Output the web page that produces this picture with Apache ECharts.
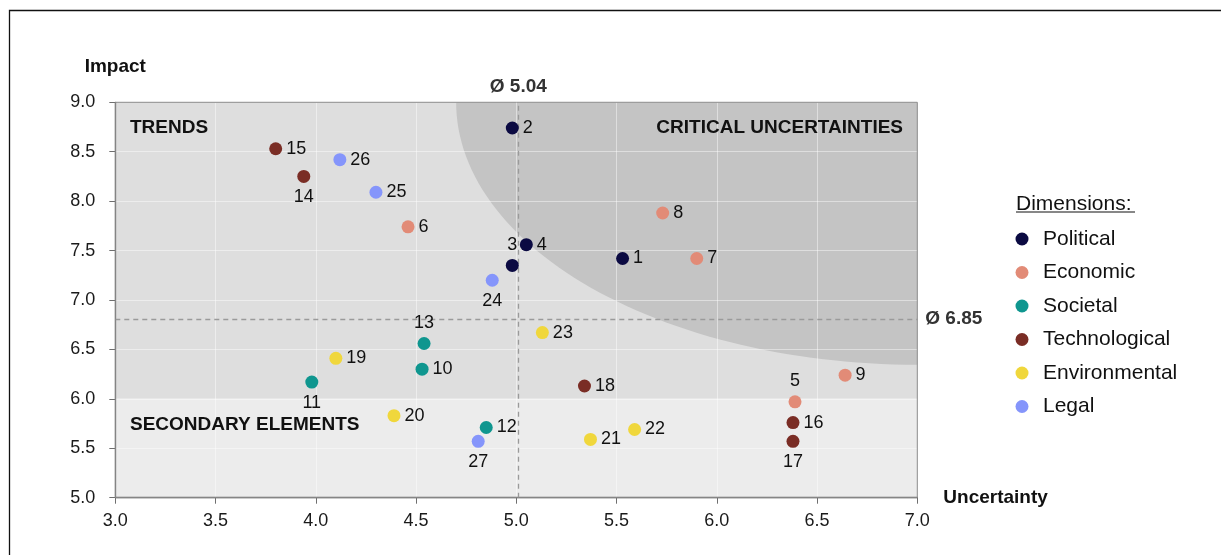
<!DOCTYPE html>
<html>
<head>
<meta charset="utf-8">
<script src="https://cdn.jsdelivr.net/npm/echarts@6/dist/echarts.min.js"></script>
<style>
  html, body { margin: 0; padding: 0; background: #fff; }
  #chart { width: 1221px; height: 555px; }
</style>
</head>
<body>
<div id="chart"></div>
<script>
// [uncertainty, impact, id]
var political = [[5.53, 7.42, 1], [4.98, 8.74, 2], [4.98, 7.35, 3], [5.05, 7.56, 4]];
var economic = [[6.39, 5.97, 5], [4.46, 7.74, 6], [5.90, 7.42, 7], [5.73, 7.88, 8], [6.64, 6.24, 9]];
var societal = [[4.53, 6.30, 10], [3.98, 6.17, 11], [4.85, 5.71, 12], [4.54, 6.56, 13]];
var technological = [[3.94, 8.25, 14], [3.80, 8.53, 15], [6.38, 5.76, 16], [6.38, 5.57, 17], [5.34, 6.13, 18]];
var environmental = [[4.10, 6.41, 19], [4.39, 5.83, 20], [5.37, 5.59, 21], [5.59, 5.69, 22], [5.13, 6.67, 23]];
var legal = [[4.88, 7.20, 24], [4.30, 8.09, 25], [4.12, 8.42, 26], [4.81, 5.57, 27]];

var dimensions = ['Political', 'Economic', 'Societal', 'Technological', 'Environmental', 'Legal'];
var dimData = [political, economic, societal, technological, environmental, legal];
var colors = ['#0b0a42', '#e28b77', '#0f968f', '#7a2d25', '#f0d73c', '#8595fb'];

// averages (drawn position, printed value)
var avgX = 5.015, avgXText = 'Ø 5.04';
var avgY = 6.81, avgYText = 'Ø 6.85';

// critical uncertainties region: quarter ellipse around top-right corner
var critCenter = [7, 9];
var critRadius = [2.30, 2.655];
var secondaryTop = 6;

// label placement for points that are not labelled on the right
var labelPos = {3: 'top', 5: 'top', 13: 'top', 11: 'bottom', 14: 'bottom', 17: 'bottom', 24: 'bottom', 27: 'bottom'};

var font = '"Liberation Sans", Arial, sans-serif';
var myChart = echarts.init(document.getElementById('chart'));

var series = [
    {
        name: 'bands',
        type: 'line',
        data: [],
        z: 1,
        silent: true,
        markArea: {
            silent: true,
            data: [
                [{yAxis: secondaryTop, itemStyle: {color: '#dedede'}}, {yAxis: 9}],
                [{yAxis: 5, itemStyle: {color: '#ececec'}}, {yAxis: secondaryTop}]
            ]
        }
    },
    {
        name: 'critical',
        type: 'custom',
        z: 2,
        silent: true,
        data: [0],
        renderItem: function (params, api) {
            var pts = [api.coord(critCenter)];
            for (var i = 0; i <= 60; i++) {
                var t = i / 60 * Math.PI / 2;
                pts.push(api.coord([critCenter[0] - critRadius[0] * Math.cos(t),
                                    critCenter[1] - critRadius[1] * Math.sin(t)]));
            }
            return {
                type: 'polygon',
                shape: {points: pts},
                style: {fill: '#c4c4c4'}
            };
        }
    },
    {
        name: 'averages',
        type: 'line',
        data: [],
        z: 4,
        silent: true,
        markLine: {
            silent: true,
            symbol: 'none',
            lineStyle: {color: '#9a9a9a', type: [5, 4], width: 1.3},
            label: {
                position: 'end',
                fontFamily: font,
                fontSize: 19,
                fontWeight: 'bold',
                color: '#333'
            },
            data: [
                {xAxis: avgX, label: {formatter: avgXText, distance: 6}},
                {yAxis: avgY, label: {formatter: avgYText, distance: 8}}
            ]
        }
    }
];

dimensions.forEach(function (name, i) {
    series.push({
        name: name,
        type: 'scatter',
        z: 5,
        symbolSize: 13,
        itemStyle: {color: colors[i], opacity: 1},
        data: dimData[i].map(function (d) {
            var pos = labelPos[d[2]] || 'right';
            return {
                value: d,
                label: {position: pos, distance: pos === 'right' ? 4 : 5}
            };
        }),
        label: {
            show: true,
            formatter: function (p) { return p.value[2]; },
            fontFamily: font,
            fontSize: 18,
            color: '#111'
        }
    });
});

option = {
    backgroundColor: '#fff',
    animation: false,
    grid: {
        left: 115.3,
        right: 303.7,
        top: 102.3,
        bottom: 57.3,
        show: true,
        z: 6,
        backgroundColor: 'transparent',
        borderColor: '#8a8a8a',
        borderWidth: 1
    },
    xAxis: {
        type: 'value',
        min: 3,
        max: 7,
        interval: 0.5,
        z: 3,
        name: 'Uncertainty',
        nameLocation: 'end',
        nameGap: 26,
        nameTextStyle: {fontFamily: font, fontSize: 19, fontWeight: 'bold', color: '#111'},
        axisLine: {lineStyle: {color: '#6e6e6e', width: 1.3}},
        axisTick: {show: true, length: 6, lineStyle: {color: '#6e6e6e'}},
        axisLabel: {
            fontFamily: font, fontSize: 18, color: '#1a1a1a', margin: 14,
            formatter: function (v) { return v.toFixed(1); }
        },
        splitLine: {show: true, lineStyle: {color: 'rgba(255,255,255,0.45)', width: 1}}
    },
    yAxis: {
        type: 'value',
        min: 5,
        max: 9,
        interval: 0.5,
        z: 3,
        name: 'Impact',
        nameLocation: 'end',
        nameGap: 26,
        nameTextStyle: {fontFamily: font, fontSize: 19, fontWeight: 'bold', color: '#111', align: 'center'},
        axisLine: {show: true, lineStyle: {color: '#6e6e6e', width: 1.3}},
        axisTick: {show: true, length: 6, lineStyle: {color: '#6e6e6e'}},
        axisLabel: {
            fontFamily: font, fontSize: 18, color: '#1a1a1a', margin: 20,
            formatter: function (v) { return v.toFixed(1); }
        },
        splitLine: {show: true, lineStyle: {color: 'rgba(255,255,255,0.45)', width: 1}}
    },
    legend: {
        orient: 'vertical',
        left: 1010.5,
        top: 223.5,
        itemWidth: 32,
        itemHeight: 13,
        itemGap: 12.5,
        icon: 'circle',
        data: dimensions,
        selectedMode: false,
        textStyle: {fontFamily: font, fontSize: 21, color: '#111', lineHeight: 21}
    },
    graphic: [
        {
            type: 'rect',
            silent: true,
            shape: {x: 9.5, y: 10.5, width: 1400, height: 700},
            style: {fill: 'none', stroke: '#111', lineWidth: 1.3}
        },
        {
            type: 'text', left: 1016, top: 194,
            style: {text: 'Dimensions:', font: '21px ' + font, fill: '#111'}
        },
        {
            type: 'line', silent: true,
            shape: {x1: 1016, y1: 212, x2: 1135, y2: 212},
            style: {stroke: '#111', lineWidth: 1.2}
        },
        {
            type: 'text', x: 130, y: 128, z: 7,
            style: {text: 'TRENDS', font: 'bold 19px ' + font, fill: '#111', verticalAlign: 'middle'}
        },
        {
            type: 'text', x: 903, y: 128, z: 7,
            style: {text: 'CRITICAL UNCERTAINTIES', font: 'bold 19px ' + font, fill: '#111', align: 'right', verticalAlign: 'middle'}
        },
        {
            type: 'text', x: 130, y: 425, z: 7,
            style: {text: 'SECONDARY ELEMENTS', font: 'bold 19px ' + font, fill: '#111', verticalAlign: 'middle'}
        }
    ],
    series: series
};
myChart.setOption(option);
</script>
</body>
</html>
